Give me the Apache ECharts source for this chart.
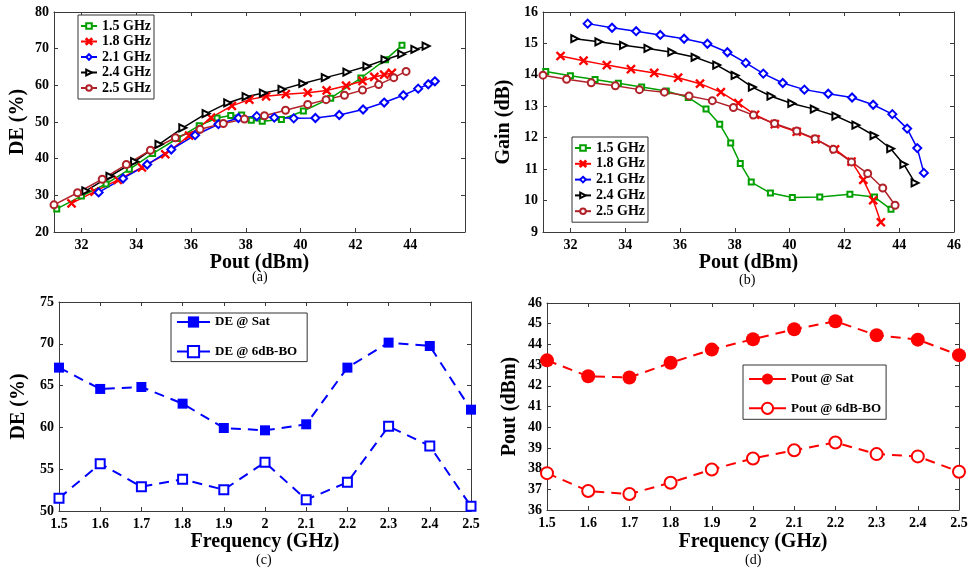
<!DOCTYPE html>
<html>
<head>
<meta charset="utf-8">
<script src="https://cdn.jsdelivr.net/npm/echarts@6/dist/echarts.min.js"></script>
<style>
  html, body { margin: 0; padding: 0; background: #fff; }
  #chart { width: 972px; height: 573px; }
</style>
</head>
<body>
<div id="chart"></div>
<script>
// ---- data ----
const freqNames = ['1.5 GHz', '1.8 GHz', '2.1 GHz', '2.4 GHz', '2.5 GHz'];

// Pout (dBm) sweep points, shared by (a) DE and (b) gain
const pout15 = [31.1, 32.0, 32.9, 33.75, 34.6, 35.5, 36.3, 36.95, 37.45, 37.85, 38.2, 38.6, 39.3, 40.1, 41.1, 42.2, 43.1, 43.7];
const pout18 = [31.64, 32.48, 33.33, 34.21, 35.06, 35.93, 36.73, 37.49, 38.13, 38.74, 39.46, 40.26, 40.95, 41.66, 42.26, 42.69, 43.05, 43.33];
const pout21 = [32.63, 33.52, 34.4, 35.28, 36.15, 37.0, 37.73, 38.4, 39.04, 39.75, 40.54, 41.41, 42.28, 43.05, 43.75, 44.29, 44.66, 44.9];
const pout24 = [32.16, 33.04, 33.94, 34.83, 35.7, 36.55, 37.34, 38.01, 38.64, 39.32, 40.08, 40.9, 41.69, 42.42, 43.08, 43.69, 44.17, 44.58];
const pout25 = [31.0, 31.86, 32.76, 33.64, 34.52, 35.43, 36.33, 37.18, 37.95, 38.68, 39.45, 40.26, 40.93, 41.6, 42.26, 42.85, 43.4, 43.85];

// (a) drain efficiency (%)
const de15 = [26.3, 29.8, 33.1, 37.1, 41.4, 45.5, 49.0, 51.1, 51.8, 51.9, 50.5, 50.2, 50.7, 53.0, 56.5, 62.0, 67.0, 70.9];
const de18 = [27.8, 31.0, 34.2, 37.6, 41.2, 46.3, 51.2, 54.4, 56.1, 57.0, 57.6, 58.0, 58.6, 59.9, 61.2, 62.3, 62.9, 63.4];
const de21 = [30.8, 34.6, 38.4, 42.5, 46.4, 49.4, 51.1, 51.6, 51.2, 51.0, 51.1, 51.9, 53.4, 55.3, 57.3, 59.1, 60.3, 61.1];
const de24 = [31.2, 35.2, 39.2, 43.9, 48.4, 52.3, 55.2, 56.9, 57.9, 58.9, 60.5, 62.1, 63.6, 65.2, 67.0, 68.5, 69.8, 70.7];
const de25 = [27.4, 30.7, 34.4, 38.4, 42.3, 45.7, 48.0, 49.6, 50.8, 51.7, 53.2, 54.8, 56.1, 57.3, 58.7, 60.2, 62.1, 63.8];

// (b) gain (dB)
const gain15 = [14.11, 13.97, 13.85, 13.73, 13.61, 13.49, 13.28, 12.91, 12.43, 11.83, 11.18, 10.59, 10.24, 10.10, 10.11, 10.2, 10.11, 9.72];
const gain18 = [14.6, 14.45, 14.31, 14.18, 14.06, 13.91, 13.72, 13.45, 13.1, 12.73, 12.43, 12.19, 11.95, 11.63, 11.24, 10.66, 10.01, 9.31];
const gain21 = [15.63, 15.5, 15.39, 15.27, 15.15, 14.99, 14.72, 14.38, 14.04, 13.74, 13.53, 13.4, 13.28, 13.05, 12.75, 12.29, 11.67, 10.88];
const gain24 = [15.15, 15.05, 14.94, 14.84, 14.72, 14.56, 14.31, 13.98, 13.61, 13.32, 13.09, 12.91, 12.69, 12.4, 12.07, 11.65, 11.15, 10.56];
const gain25 = [13.99, 13.86, 13.75, 13.65, 13.53, 13.45, 13.33, 13.18, 12.96, 12.72, 12.45, 12.21, 11.97, 11.63, 11.23, 10.86, 10.4, 9.85];

// (c), (d) versus frequency
const freqCats = ['1.5', '1.6', '1.7', '1.8', '1.9', '2', '2.1', '2.2', '2.3', '2.4', '2.5'];
const deSat = [67.15, 64.6, 64.83, 62.84, 59.93, 59.65, 60.37, 67.15, 70.14, 69.74, 62.12];
const deBO = [51.52, 55.66, 52.91, 53.79, 52.55, 55.82, 51.36, 53.43, 60.13, 57.78, 50.56];
const poutSat = [43.23, 42.46, 42.4, 43.11, 43.75, 44.25, 44.73, 45.12, 44.44, 44.23, 43.48];
const poutBO = [37.78, 36.92, 36.77, 37.32, 37.96, 38.49, 38.89, 39.26, 38.7, 38.59, 37.85];

// tick labels for the Pout axes
const poutTicksA = [32, 34, 36, 38, 40, 42, 44];
const poutTicksB = [32, 34, 36, 38, 40, 42, 44, 46];

// ---- styling ----
const serif = '"Liberation Serif", "Times New Roman", serif';
const axisCol = '#3a3a3a';
const crossPath = 'path://M0,1L1,0L5,4L9,0L10,1L6,5L10,9L9,10L5,6L1,10L0,9L4,5Z';

const freqStyles = [
  { color: '#00a000', symbol: 'emptyRect', size: 5, rotate: 0 },
  { color: '#ff0000', symbol: crossPath, size: 8, rotate: 0 },
  { color: '#0000ff', symbol: 'emptyDiamond', size: 8, rotate: 0 },
  { color: '#000000', symbol: 'emptyTriangle', size: 7, rotate: -90 },
  { color: '#b0222a', symbol: 'emptyCircle', size: 7, rotate: 0 }
];

function zip(xs, ys) {
  return xs.map((x, i) => [x, ys[i]]);
}

const labelFont = { fontFamily: serif, fontWeight: 'bold', fontSize: 14, color: '#000' };
const nameFont = { fontFamily: serif, fontWeight: 'bold', fontSize: 20, color: '#000' };

function boxLine() {
  return { show: true, onZero: false, lineStyle: { color: axisCol, width: 1 } };
}

// bottom/left axis with labels + top/right mirror axis with ticks only
function valueX(grid, min, max, ticks, name, gap) {
  return [
    {
      type: 'value', gridIndex: grid, min: min, max: max, position: 'bottom',
      name: name, nameLocation: 'middle', nameGap: gap, nameTextStyle: nameFont,
      axisLine: boxLine(),
      axisTick: { inside: true, length: 4, customValues: ticks, lineStyle: { color: axisCol } },
      axisLabel: { customValues: ticks, margin: 6, ...labelFont },
      splitLine: { show: false }
    },
    {
      type: 'value', gridIndex: grid, min: min, max: max, position: 'top',
      axisLine: boxLine(),
      axisTick: { inside: true, length: 4, customValues: ticks, lineStyle: { color: axisCol } },
      axisLabel: { show: false },
      splitLine: { show: false }
    }
  ];
}

function catX(grid, name, gap) {
  return [
    {
      type: 'category', gridIndex: grid, data: freqCats, boundaryGap: false, position: 'bottom',
      name: name, nameLocation: 'middle', nameGap: gap, nameTextStyle: nameFont,
      axisLine: boxLine(),
      axisTick: { inside: true, length: 4, lineStyle: { color: axisCol } },
      axisLabel: { interval: 0, margin: 6, ...labelFont },
      splitLine: { show: false }
    },
    {
      type: 'category', gridIndex: grid, data: freqCats, boundaryGap: false, position: 'top',
      axisLine: boxLine(),
      axisTick: { inside: true, length: 4, lineStyle: { color: axisCol } },
      axisLabel: { show: false },
      splitLine: { show: false }
    }
  ];
}

function valueY(grid, min, max, step, name, gap) {
  return [
    {
      type: 'value', gridIndex: grid, min: min, max: max, interval: step, position: 'left',
      name: name, nameLocation: 'middle', nameGap: gap, nameTextStyle: nameFont,
      axisLine: boxLine(),
      axisTick: { show: true, inside: true, length: 4, lineStyle: { color: axisCol } },
      axisLabel: { margin: 5, ...labelFont },
      splitLine: { show: false }
    },
    {
      type: 'value', gridIndex: grid, min: min, max: max, interval: step, position: 'right',
      axisLine: boxLine(),
      axisTick: { show: true, inside: true, length: 4, lineStyle: { color: axisCol } },
      axisLabel: { show: false },
      splitLine: { show: false }
    }
  ];
}

const xAxes = [].concat(
  valueX(0, 31, 46, poutTicksA, 'Pout (dBm)', 20),
  valueX(1, 31, 46, poutTicksB, 'Pout (dBm)', 20),
  catX(2, 'Frequency (GHz)', 21),
  catX(3, 'Frequency (GHz)', 22)
);
const yAxes = [].concat(
  valueY(0, 20, 80, 10, 'DE (%)', 26),
  valueY(1, 9, 16, 1, 'Gain (dB)', 29),
  valueY(2, 50, 75, 5, 'DE (%)', 30),
  valueY(3, 36, 46, 1, 'Pout (dBm)', 27)
);

const poutSets = [pout15, pout18, pout21, pout24, pout25];
const deSets = [de15, de18, de21, de24, de25];
const gainSets = [gain15, gain18, gain21, gain24, gain25];

const series = [];
[0, 1].forEach(function (panel) {
  freqNames.forEach(function (nm, i) {
    const st = freqStyles[i];
    series.push({
      name: nm, type: 'line',
      xAxisIndex: panel * 2, yAxisIndex: panel * 2,
      data: zip(poutSets[i], panel === 0 ? deSets[i] : gainSets[i]),
      symbol: st.symbol, symbolSize: st.size, symbolRotate: st.rotate, showAllSymbol: true,
      lineStyle: { color: st.color, width: 1.5 },
      itemStyle: { color: st.color, borderColor: st.color, borderWidth: 1.2 },
      emphasis: { disabled: true }, animation: false
    });
  });
});

const dashed = [10, 7];
series.push(
  {
    name: 'DE @ Sat', type: 'line', xAxisIndex: 4, yAxisIndex: 4, data: deSat,
    symbol: 'rect', symbolSize: 10,
    lineStyle: { color: '#0000ff', width: 2, type: dashed },
    itemStyle: { color: '#0000ff' }, emphasis: { disabled: true }, animation: false
  },
  {
    name: 'DE @ 6dB-BO', type: 'line', xAxisIndex: 4, yAxisIndex: 4, data: deBO,
    symbol: 'emptyRect', symbolSize: 9,
    lineStyle: { color: '#0000ff', width: 2, type: dashed },
    itemStyle: { color: '#0000ff', borderColor: '#0000ff', borderWidth: 2 },
    emphasis: { disabled: true }, animation: false
  },
  {
    name: 'Pout @ Sat', type: 'line', xAxisIndex: 6, yAxisIndex: 6, data: poutSat,
    symbol: 'circle', symbolSize: 14,
    lineStyle: { color: '#ff0000', width: 2, type: dashed },
    itemStyle: { color: '#ff0000' }, emphasis: { disabled: true }, animation: false
  },
  {
    name: 'Pout @ 6dB-BO', type: 'line', xAxisIndex: 6, yAxisIndex: 6, data: poutBO,
    symbol: 'emptyCircle', symbolSize: 12,
    lineStyle: { color: '#ff0000', width: 2, type: dashed },
    itemStyle: { color: '#ff0000', borderColor: '#ff0000', borderWidth: 2 },
    emphasis: { disabled: true }, animation: false
  }
);

const legendText = { fontFamily: serif, fontWeight: 'bold', fontSize: 14, color: '#000', lineHeight: 14 };
const legendBase = {
  orient: 'vertical', borderColor: '#333', borderWidth: 1, backgroundColor: '#fff',
  selectedMode: false, inactiveColor: '#000'
};

const option = {
  backgroundColor: '#fff',
  animation: false,
  grid: [
    { left: 54, top: 12, width: 411, height: 220 },
    { left: 543, top: 12, width: 411, height: 220 },
    { left: 59, top: 302, width: 412, height: 209 },
    { left: 547, top: 303, width: 412, height: 207 }
  ],
  xAxis: xAxes,
  yAxis: yAxes,
  legend: [
    Object.assign({}, legendBase, {
      left: 78, top: 15, data: freqNames, itemWidth: 16, itemHeight: 7, itemGap: 1.5,
      padding: [4, 3, 4, 2], textStyle: legendText
    }),
    Object.assign({}, legendBase, {
      left: 572, top: 137, data: freqNames, itemWidth: 16, itemHeight: 7, itemGap: 1.8,
      padding: [4, 3, 4, 2], textStyle: legendText
    }),
    Object.assign({}, legendBase, {
      left: 171, top: 313, data: ['DE @ Sat', 'DE @ 6dB-BO'], itemWidth: 33, itemHeight: 14, itemGap: 15.6,
      padding: [2, 10, 3, 5], textStyle: Object.assign({}, legendText, { fontSize: 13 }),
      lineStyle: { type: 'solid' }
    }),
    Object.assign({}, legendBase, {
      left: 743, top: 365, data: ['Pout @ Sat', 'Pout @ 6dB-BO'], itemWidth: 37, itemHeight: 14, itemGap: 15.3,
      padding: [7, 5, 4, 5], textStyle: Object.assign({}, legendText, { fontSize: 13 }),
      lineStyle: { type: 'solid' }
    })
  ],
  graphic: [
    { type: 'text', left: 252, top: 270, style: { text: '(a)', font: '14px ' + serif, fill: '#000' } },
    { type: 'text', left: 739, top: 273, style: { text: '(b)', font: '14px ' + serif, fill: '#000' } },
    { type: 'text', left: 256, top: 553, style: { text: '(c)', font: '14px ' + serif, fill: '#000' } },
    { type: 'text', left: 745, top: 553, style: { text: '(d)', font: '14px ' + serif, fill: '#000' } }
  ],
  series: series
};

const chart = echarts.init(document.getElementById('chart'), null, { renderer: 'canvas' });
chart.setOption(option);
</script>
</body>
</html>
